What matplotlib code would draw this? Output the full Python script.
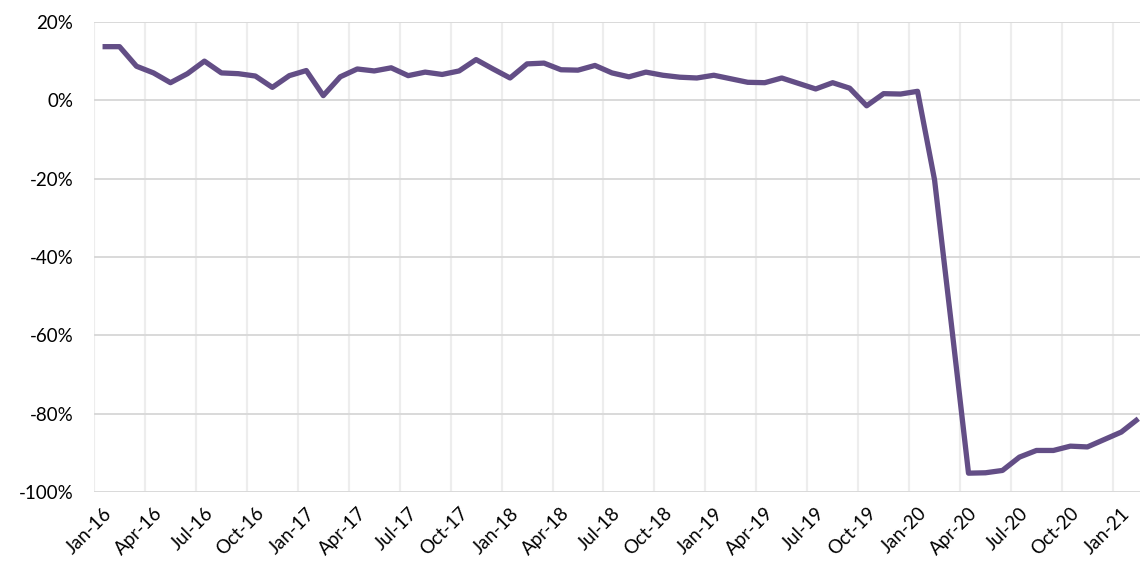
import numpy as np
import matplotlib
matplotlib.use('Agg')
import matplotlib.pyplot as plt
from matplotlib.ticker import FuncFormatter

plt.rcParams['font.family'] = ['Lato', 'DejaVu Sans']

# Monthly change, Jan-16 .. Feb-21 (percent)
START_YEAR = 2016
values = [
    13.7, 13.7, 8.7, 7.0, 4.5, 6.8, 10.0, 7.0, 6.8, 6.2, 3.3, 6.3,
    7.6, 1.2, 6.0, 8.0, 7.5, 8.3, 6.3, 7.2, 6.6, 7.5, 10.4, 8.0,
    5.7, 9.3, 9.5, 7.8, 7.7, 8.9, 7.0, 6.0, 7.2, 6.4, 5.9, 5.7,
    6.4, 5.5, 4.6, 4.5, 5.7, 4.3, 2.9, 4.5, 3.1, -1.4, 1.7, 1.6,
    2.3, -20.3, -57.5, -95.2, -95.1, -94.5, -91.1, -89.4, -89.4, -88.3,
    -88.5, -86.6, -84.7, -81.3,
]
month_names = ['Jan', 'Feb', 'Mar', 'Apr', 'May', 'Jun',
               'Jul', 'Aug', 'Sep', 'Oct', 'Nov', 'Dec']
labels = [f"{month_names[i % 12]}-{(START_YEAR + i // 12) % 100:02d}"
          for i in range(len(values))]
y_ticks = [20, 0, -20, -40, -60, -80, -100]

LINE_COLOR = '#634E86'

fig = plt.figure(figsize=(11.4, 5.71), dpi=100)
ax = fig.add_axes([0.0825, 0.1384, 0.9175, 0.8231])

x = np.arange(len(values))
ax.plot(x, values, color=LINE_COLOR, linewidth=3.8, solid_joinstyle='round',
        solid_capstyle='butt', zorder=3, clip_on=False)

ax.set_xlim(-0.5, len(values) - 0.9)
ax.set_ylim(-100, 20)

# labels every quarter, gridlines between categories
ax.set_xticks(x[::3])
ax.set_xticklabels(labels[::3], rotation=45, ha='right', va='top',
                   rotation_mode='anchor', fontsize=13.5)
ax.set_xticks(np.arange(-0.5, len(values) - 1, 3), minor=True)
ax.tick_params(axis='x', which='both', length=0, pad=9)
ax.grid(True, axis='x', which='minor', color='#EDEDED', linewidth=1.6)

ax.set_yticks(y_ticks)
ax.yaxis.set_major_formatter(FuncFormatter(lambda v, _: f"{v:.0f}%"))
ax.tick_params(axis='y', length=0, pad=15, labelsize=13.5)
ax.grid(True, axis='y', which='major', color='#D9D9D9', linewidth=1.4)

for s in ax.spines.values():
    s.set_visible(False)
ax.set_axisbelow(True)

fig.savefig('out.png', dpi=100)
